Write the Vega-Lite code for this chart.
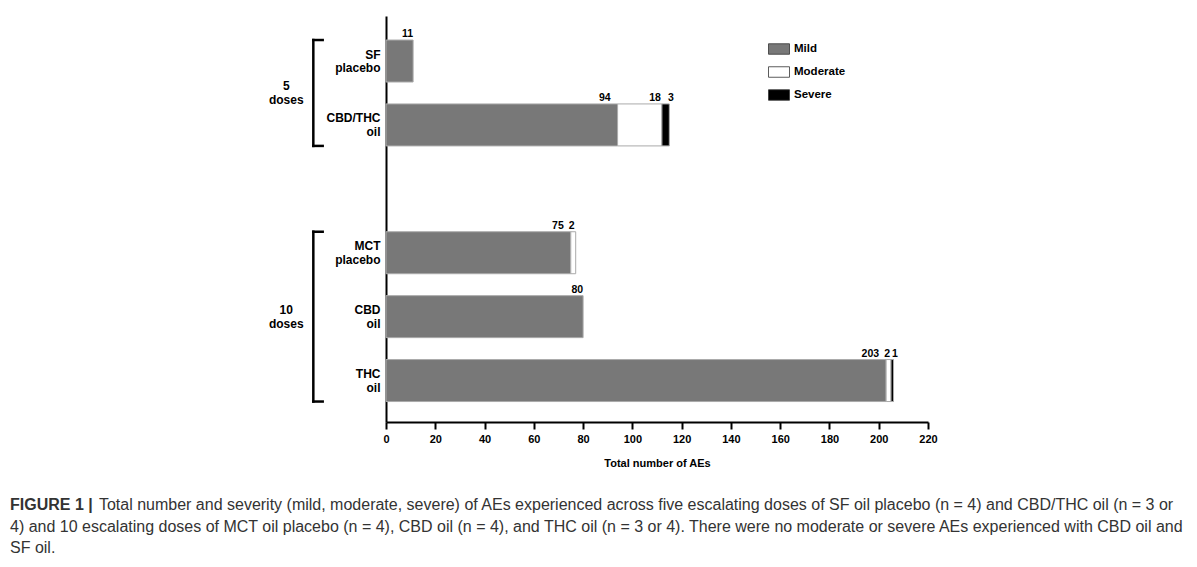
{
  "$schema": "https://vega.github.io/schema/vega-lite/v6.json",
  "autosize": {"type": "none"},
  "width": 542,
  "height": 406,
  "padding": {"left": 386, "top": 16, "right": 269, "bottom": 145},
  "background": "white",
  "config": {
    "font": "Liberation Sans",
    "view": {"stroke": null},
    "axisX": {"domainColor": "black", "domainWidth": 2, "tickColor": "black", "tickWidth": 2, "tickSize": 7, "labelFontSize": 11, "labelFontWeight": "bold", "labelColor": "black", "labelPadding": 4, "labelFlush": false, "titleFontSize": 11, "titleFontWeight": "bold", "titleColor": "black", "titlePadding": 13, "grid": false},
    "axisY": {"domainColor": "black", "domainWidth": 2, "ticks": false, "tickSize": 0, "labelFontSize": 12, "labelFontWeight": "bold", "labelColor": "black", "labelPadding": 6, "labelLineHeight": 13.5, "labelOffset": -6.5, "grid": false}
  },
  "datasets": {
    "aes": [
      {"treatment": "SF placebo", "severity": "Mild", "count": 11},
      {"treatment": "CBD/THC oil", "severity": "Mild", "count": 94},
      {"treatment": "CBD/THC oil", "severity": "Moderate", "count": 18},
      {"treatment": "CBD/THC oil", "severity": "Severe", "count": 3},
      {"treatment": "MCT placebo", "severity": "Mild", "count": 75},
      {"treatment": "MCT placebo", "severity": "Moderate", "count": 2},
      {"treatment": "CBD oil", "severity": "Mild", "count": 80},
      {"treatment": "THC oil", "severity": "Mild", "count": 203},
      {"treatment": "THC oil", "severity": "Moderate", "count": 2},
      {"treatment": "THC oil", "severity": "Severe", "count": 1}
    ],
    "groups": [
      {"group": "5 doses", "first": "SF placebo", "last": "CBD/THC oil"},
      {"group": "10 doses", "first": "MCT placebo", "last": "THC oil"}
    ]
  },
  "title": {
    "text": "FIGURE 1 |",
    "subtitle": [
      "\u200b\u00a0\u00a0\u00a0\u00a0\u00a0\u00a0\u00a0\u00a0\u00a0\u00a0\u00a0\u00a0\u00a0\u00a0\u00a0\u00a0\u00a0\u00a0\u00a0\u00a0Total number and severity (mild, moderate, severe) of AEs experienced across five escalating doses of SF oil placebo (n = 4) and CBD/THC oil (n = 3 or",
      "4) and 10 escalating doses of MCT oil placebo (n = 4), CBD oil (n = 4), and THC oil (n = 3 or 4). There were no moderate or severe AEs experienced with CBD oil and",
      "SF oil."
    ],
    "orient": "bottom",
    "anchor": "start",
    "frame": "group",
    "dx": -376,
    "offset": 29,
    "fontSize": 16,
    "fontWeight": "bold",
    "color": "#333333",
    "subtitleFontSize": 16,
    "subtitleFontWeight": "normal",
    "subtitleColor": "#333333",
    "subtitleLineHeight": 21.5,
    "subtitlePadding": -16
  },
  "layer": [
    {
      "data": {"name": "aes"},
      "transform": [
        {"stack": "count", "groupby": ["treatment"], "sort": [{"field": "severity", "order": "ascending"}], "as": ["x0", "x1"]}
      ],
      "mark": {"type": "bar", "stroke": "#aaaaaa", "strokeWidth": 1},
      "encoding": {
        "y": {"field": "treatment", "type": "nominal", "title": null,
              "scale": {"domain": ["SF placebo", "CBD/THC oil", " ", "MCT placebo", "CBD oil", "THC oil"], "paddingInner": 0.343, "paddingOuter": 0.348, "align": 0.54},
              "axis": {"labelExpr": "split(datum.label, ' ')"}},
        "x": {"field": "x0", "type": "quantitative", "title": "Total number of AEs",
              "scale": {"domain": [0, 220], "nice": false},
              "axis": {"values": [0, 20, 40, 60, 80, 100, 120, 140, 160, 180, 200, 220]}},
        "x2": {"field": "x1"},
        "color": {"field": "severity", "type": "nominal",
                  "scale": {"domain": ["Mild", "Moderate", "Severe"], "range": ["#787878", "#ffffff", "#000000"]},
                  "legend": {"orient": "none", "legendX": 382, "legendY": 22, "title": null, "padding": 0,
                             "symbolType": "M-1,-0.5H1V0.5H-1Z", "symbolSize": 441, "symbolStrokeColor": "#333333", "symbolStrokeWidth": 0.8,
                             "labelFontSize": 11.5, "labelFontWeight": "bold", "labelColor": "black", "labelOffset": 4, "rowPadding": 5}}
      }
    },
    {
      "data": {"name": "aes"},
      "transform": [
        {"stack": "count", "groupby": ["treatment"], "sort": [{"field": "severity", "order": "ascending"}], "as": ["x0", "x1"]},
        {"joinaggregate": [{"op": "count", "as": "nseg"}], "groupby": ["treatment"]},
        {"filter": "datum.severity == 'Mild' && datum.nseg == 1"}
      ],
      "mark": {"type": "text", "align": "right", "baseline": "alphabetic", "dy": -3, "dx": 0, "fontSize": 10.5, "fontWeight": "bold", "color": "black"},
      "encoding": {
        "y": {"field": "treatment", "type": "nominal", "title": null, "bandPosition": 0},
        "x": {"field": "x1", "type": "quantitative", "title": "Total number of AEs"},
        "text": {"field": "count"}
      }
    },
    {
      "data": {"name": "aes"},
      "transform": [
        {"stack": "count", "groupby": ["treatment"], "sort": [{"field": "severity", "order": "ascending"}], "as": ["x0", "x1"]},
        {"joinaggregate": [{"op": "count", "as": "nseg"}], "groupby": ["treatment"]},
        {"filter": "datum.severity == 'Mild' && datum.nseg > 1"}
      ],
      "mark": {"type": "text", "align": "right", "baseline": "alphabetic", "dy": -3, "dx": -7, "fontSize": 10.5, "fontWeight": "bold", "color": "black"},
      "encoding": {
        "y": {"field": "treatment", "type": "nominal", "title": null, "bandPosition": 0},
        "x": {"field": "x1", "type": "quantitative", "title": "Total number of AEs"},
        "text": {"field": "count"}
      }
    },
    {
      "data": {"name": "aes"},
      "transform": [
        {"stack": "count", "groupby": ["treatment"], "sort": [{"field": "severity", "order": "ascending"}], "as": ["x0", "x1"]},
        {"filter": "datum.severity == 'Moderate'"}
      ],
      "mark": {"type": "text", "align": "right", "baseline": "alphabetic", "dy": -3, "dx": -1, "fontSize": 10.5, "fontWeight": "bold", "color": "black"},
      "encoding": {
        "y": {"field": "treatment", "type": "nominal", "title": null, "bandPosition": 0},
        "x": {"field": "x1", "type": "quantitative", "title": "Total number of AEs"},
        "text": {"field": "count"}
      }
    },
    {
      "data": {"name": "aes"},
      "transform": [
        {"stack": "count", "groupby": ["treatment"], "sort": [{"field": "severity", "order": "ascending"}], "as": ["x0", "x1"]},
        {"filter": "datum.severity == 'Severe'"}
      ],
      "mark": {"type": "text", "align": "center", "baseline": "alphabetic", "dy": -3, "dx": 1.5, "fontSize": 10.5, "fontWeight": "bold", "color": "black"},
      "encoding": {
        "y": {"field": "treatment", "type": "nominal", "title": null, "bandPosition": 0},
        "x": {"field": "x1", "type": "quantitative", "title": "Total number of AEs"},
        "text": {"field": "count"}
      }
    },
    {
      "data": {"name": "groups"},
      "mark": {"type": "rule", "color": "black", "strokeWidth": 2.5, "strokeCap": "square"},
      "encoding": {
        "x": {"datum": -29.5, "type": "quantitative"},
        "y": {"field": "first", "type": "nominal", "title": null, "bandPosition": 0},
        "y2": {"field": "last", "bandPosition": 1}
      }
    },
    {
      "data": {"name": "groups"},
      "mark": {"type": "rule", "color": "black", "strokeWidth": 2.5, "strokeCap": "square"},
      "encoding": {
        "x": {"datum": -29.5, "type": "quantitative"},
        "x2": {"datum": -25.7},
        "y": {"field": "first", "type": "nominal", "title": null, "bandPosition": 0}
      }
    },
    {
      "data": {"name": "groups"},
      "mark": {"type": "rule", "color": "black", "strokeWidth": 2.5, "strokeCap": "square"},
      "encoding": {
        "x": {"datum": -29.5, "type": "quantitative"},
        "x2": {"datum": -25.7},
        "y": {"field": "last", "type": "nominal", "title": null, "bandPosition": 1}
      }
    },
    {
      "data": {"name": "groups"},
      "transform": [{"filter": "datum.group == '5 doses'"}],
      "mark": {"type": "text", "align": "center", "baseline": "middle", "lineBreak": " ", "lineHeight": 14.5, "dy": -18, "fontSize": 12, "fontWeight": "bold", "color": "black"},
      "encoding": {
        "x": {"datum": -40.5, "type": "quantitative"},
        "y": {"field": "last", "type": "nominal", "title": null, "bandPosition": 0},
        "text": {"field": "group"}
      }
    },
    {
      "data": {"name": "groups"},
      "transform": [{"filter": "datum.group == '10 doses'"}],
      "mark": {"type": "text", "align": "center", "baseline": "middle", "lineBreak": " ", "lineHeight": 14.5, "dy": -7, "fontSize": 12, "fontWeight": "bold", "color": "black"},
      "encoding": {
        "x": {"datum": -40.5, "type": "quantitative"},
        "y": {"datum": "CBD oil", "type": "nominal", "title": null, "bandPosition": 0.5},
        "text": {"field": "group"}
      }
    }
  ]
}
